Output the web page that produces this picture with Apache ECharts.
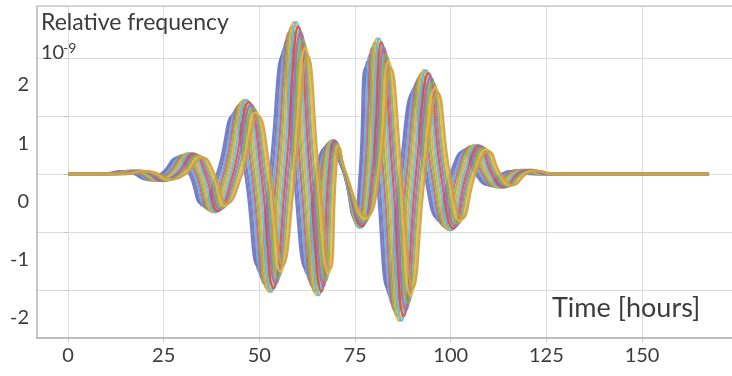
<!DOCTYPE html>
<html>
<head>
<meta charset="utf-8">
<script src="https://cdn.jsdelivr.net/npm/echarts@6/dist/echarts.min.js"></script>
<style>
  html, body { margin: 0; padding: 0; background: #fff; }
  #chart { width: 732px; height: 376px; }
</style>
</head>
<body>
<div id="chart"></div>
<script>
// tick labels
const xTicks = [0, 25, 50, 75, 100, 125, 150]
const yTicks = [-2, -1, 0, 1, 2]

// traces: [time in hours, relative frequency in 1e-9]
const trace01 = [[0,0],[8.7,0],[14.2,0.05],[17.2,0],[20.2,-0.09],[24.2,0],[28.6,0.28],[31.7,0],[34.9,-0.51],[38.9,0],[43,1],[46.3,0],[49.5,-1.58],[52.7,0],[56,2.04],[59,0],[62,-1.63],[64.8,0],[67.6,0.46],[71.7,0.08],[74.7,-0.73],[76.2,0],[77.7,1.83],[80.6,0],[83.5,-1.97],[86.7,0],[90,1.4],[93.2,0],[96.5,-0.76],[99.9,0],[103.3,0.39],[106.5,0],[109.8,-0.19],[113.2,0],[116.6,0.05],[120.7,0],[167.5,0]]
const trace02 = [[0,0],[9.3,0],[14.8,0.05],[17.8,0],[20.8,-0.1],[24.8,0],[29.2,0.3],[32.3,0],[35.5,-0.55],[39.5,0],[43.6,1.06],[46.9,0],[50.1,-1.68],[53.3,0],[56.6,2.17],[59.6,0],[62.6,-1.73],[65.2,0],[67.9,0.49],[71.7,0.08],[75,-0.77],[76.6,0],[78.3,1.94],[81.2,0],[84.1,-2.1],[87.3,0],[90.6,1.49],[93.8,0],[97.1,-0.81],[100.5,0],[103.9,0.42],[107.1,0],[110.4,-0.2],[113.8,0],[117.2,0.06],[121.3,0],[167.5,0]]
const trace03 = [[0,0],[9.9,0],[15.4,0.05],[18.4,0],[21.4,-0.11],[25.4,0],[29.8,0.32],[32.9,0],[36.1,-0.58],[40.1,0],[44.2,1.13],[47.5,0],[50.7,-1.79],[53.9,0],[57.2,2.31],[60.2,0],[63.2,-1.84],[65.7,0],[68.2,0.52],[71.8,0.08],[75.3,-0.82],[77.1,0],[78.9,2.06],[81.8,0],[84.7,-2.23],[87.9,0],[91.2,1.58],[94.4,0],[97.7,-0.85],[101.1,0],[104.5,0.44],[107.7,0],[111,-0.21],[114.4,0],[117.8,0.06],[121.9,0],[167.5,0]]
const trace04 = [[0,0],[10.5,0],[16,0.06],[19,0],[22,-0.11],[26,0],[30.4,0.33],[33.5,0],[36.7,-0.61],[40.7,0],[44.8,1.19],[48.1,0],[51.3,-1.89],[54.5,0],[57.8,2.44],[60.8,0],[63.8,-1.94],[66.2,0],[68.5,0.55],[71.9,0.08],[75.6,-0.86],[77.6,0],[79.5,2.18],[82.4,0],[85.3,-2.35],[88.5,0],[91.8,1.66],[95,0],[98.3,-0.9],[101.7,0],[105.1,0.47],[108.3,0],[111.6,-0.22],[115,0],[118.4,0.07],[122.5,0],[167.5,0]]
const trace05 = [[0,0],[11.1,0],[16.6,0.06],[19.6,0],[22.6,-0.12],[26.6,0],[31,0.35],[34.1,0],[37.3,-0.64],[41.3,0],[45.4,1.24],[48.7,0],[51.9,-1.97],[55.1,0],[58.4,2.54],[61.4,0],[64.4,-2.03],[66.7,0],[68.8,0.57],[71.9,0.08],[75.9,-0.9],[78.1,0],[80.1,2.27],[83,0],[85.9,-2.45],[89.1,0],[92.4,1.74],[95.6,0],[98.9,-0.94],[102.3,0],[105.7,0.49],[108.9,0],[112.2,-0.23],[115.6,0],[119,0.07],[123.1,0],[167.5,0]]
const trace06 = [[0,0],[11.7,0],[17.2,0.06],[20.2,0],[23.2,-0.12],[27.2,0],[31.6,0.36],[34.7,0],[37.9,-0.66],[41.9,0],[46,1.28],[49.3,0],[52.5,-2.03],[55.7,0],[59,2.62],[62,0],[65,-2.09],[67.2,0],[69.1,0.59],[72,0.08],[76.2,-0.93],[78.6,0],[80.7,2.34],[83.6,0],[86.5,-2.53],[89.7,0],[93,1.79],[96.2,0],[99.5,-0.97],[102.9,0],[106.3,0.5],[109.5,0],[112.8,-0.24],[116.2,0],[119.6,0.07],[123.7,0],[167.5,0]]
const trace07 = [[0,0],[12.3,0],[17.8,0.06],[20.8,0],[23.8,-0.12],[27.8,0],[32.2,0.36],[35.3,0],[38.5,-0.66],[42.5,0],[46.6,1.28],[49.9,0],[53.1,-2.03],[56.3,0],[59.6,2.62],[62.6,0],[65.6,-2.09],[67.6,0],[69.4,0.59],[72,0.08],[76.5,-0.93],[79,0],[81.3,2.34],[84.2,0],[87.1,-2.53],[90.3,0],[93.6,1.79],[96.8,0],[100.1,-0.97],[103.5,0],[106.9,0.5],[110.1,0],[113.4,-0.24],[116.8,0],[120.2,0.07],[124.3,0],[167.5,0]]
const trace08 = [[0,0],[12.9,0],[18.4,0.06],[21.4,0],[24.4,-0.12],[28.4,0],[32.8,0.35],[35.9,0],[39.1,-0.64],[43.1,0],[47.2,1.24],[50.5,0],[53.7,-1.97],[56.9,0],[60.2,2.54],[63.2,0],[66.2,-2.03],[68.1,0],[69.7,0.57],[72.1,0.08],[76.8,-0.9],[79.5,0],[81.9,2.27],[84.8,0],[87.7,-2.45],[90.9,0],[94.2,1.74],[97.4,0],[100.7,-0.94],[104.1,0],[107.5,0.49],[110.7,0],[114,-0.23],[117.4,0],[120.8,0.07],[124.9,0],[167.5,0]]
const trace09 = [[0,0],[13.5,0],[19,0.06],[22,0],[25,-0.11],[29,0],[33.4,0.33],[36.5,0],[39.7,-0.61],[43.7,0],[47.8,1.19],[51.1,0],[54.3,-1.89],[57.5,0],[60.8,2.44],[63.8,0],[66.8,-1.94],[68.6,0],[70,0.55],[72.2,0.08],[77.1,-0.86],[80,0],[82.5,2.18],[85.4,0],[88.3,-2.35],[91.5,0],[94.8,1.66],[98,0],[101.3,-0.9],[104.7,0],[108.1,0.47],[111.3,0],[114.6,-0.22],[118,0],[121.4,0.07],[125.5,0],[167.5,0]]
const trace10 = [[0,0],[14.1,0],[19.6,0.05],[22.6,0],[25.6,-0.11],[29.6,0],[34,0.32],[37.1,0],[40.3,-0.58],[44.3,0],[48.4,1.13],[51.7,0],[54.9,-1.79],[58.1,0],[61.4,2.31],[64.4,0],[67.4,-1.84],[69.1,0],[70.3,0.52],[72.2,0.08],[77.4,-0.82],[80.5,0],[83.1,2.06],[86,0],[88.9,-2.23],[92.1,0],[95.4,1.58],[98.6,0],[101.9,-0.85],[105.3,0],[108.7,0.44],[111.9,0],[115.2,-0.21],[118.6,0],[122,0.06],[126.1,0],[167.5,0]]
const trace11 = [[0,0],[14.7,0],[20.2,0.05],[23.2,0],[26.2,-0.1],[30.2,0],[34.6,0.3],[37.7,0],[40.9,-0.55],[44.9,0],[49,1.06],[52.3,0],[55.5,-1.68],[58.7,0],[62,2.17],[65,0],[68,-1.73],[69.6,0],[70.6,0.49],[72.3,0.08],[77.7,-0.77],[81,0],[83.7,1.94],[86.6,0],[89.5,-2.1],[92.7,0],[96,1.49],[99.2,0],[102.5,-0.81],[105.9,0],[109.3,0.42],[112.5,0],[115.8,-0.2],[119.2,0],[122.6,0.06],[126.7,0],[167.5,0]]
const trace12 = [[0,0],[15.3,0],[20.8,0.05],[23.8,0],[26.8,-0.09],[30.8,0],[35.2,0.28],[38.3,0],[41.5,-0.51],[45.5,0],[49.6,1],[52.9,0],[56.1,-1.58],[59.3,0],[62.6,2.04],[65.6,0],[68.6,-1.63],[70,0],[70.9,0.46],[72.3,0.08],[78,-0.73],[81.4,0],[84.3,1.83],[87.2,0],[90.1,-1.97],[93.3,0],[96.6,1.4],[99.8,0],[103.1,-0.76],[106.5,0],[109.9,0.39],[113.1,0],[116.4,-0.19],[119.8,0],[123.2,0.05],[127.3,0],[167.5,0]]

const traces = [trace01, trace02, trace03, trace04, trace05, trace06,
  trace07, trace08, trace09, trace10, trace11, trace12]

const palette = ['#5a78cc', '#9062b3', '#45b5e0', '#e0566e', '#72bd52', '#efa237',
  '#52bfe4', '#d8503f', '#9c70bf', '#80b64e', '#f0b43c', '#c9a046']

const gridColor = '#dcdcdc'
const textColor = '#3c3c3c'
const font = 'Lato'

// x: 3.827 px per hour, hour 0 at x=68; y: 58 px per unit, 0 at y=174
const xMaxData = 173.5

const chart = echarts.init(document.getElementById('chart'))

const hidden = { show: false }
const plainText = (size) => ({ fontSize: size, fontWeight: 'normal', color: textColor, fontFamily: font })

chart.setOption({
  animation: false,
  backgroundColor: '#fff',
  textStyle: { fontFamily: font },
  title: [
    { text: 'Relative frequency', left: 41, top: 11, padding: 0, textStyle: plainText(23) },
    { text: '10', left: 41, top: 43, padding: 0, textStyle: plainText(20) },
    { text: '-9', left: 63, top: 41, padding: 0, textStyle: plainText(14) },
    { text: 'Time [hours]', left: 552, top: 295, padding: 0, textStyle: plainText(27) },
  ],
  grid: [
    { left: 37, right: 0, top: 6, bottom: 86 },  // data + horizontal lines
    { left: 68, right: 0, top: 6, bottom: 38 },  // vertical lines + x labels
    { left: 37, right: 0, top: 6, bottom: 38 },  // frame
    { left: 37, right: 0, top: 85, bottom: 58 }, // y labels
  ],
  xAxis: [
    { gridIndex: 0, type: 'value', min: -8.1, max: xMaxData, show: false },
    {
      gridIndex: 1, type: 'value', min: xTicks[0], max: xMaxData, interval: xTicks[1] - xTicks[0],
      axisLine: hidden,
      axisTick: { show: true, length: 4, lineStyle: { color: '#c4c4c4' } },
      axisLabel: { fontSize: 20, color: textColor, fontFamily: font, margin: 8, showMaxLabel: false },
      splitLine: { show: true, lineStyle: { color: gridColor } },
    },
    {
      gridIndex: 2, type: 'value', position: 'bottom', min: 0, max: 1,
      axisLine: { show: true, lineStyle: { color: '#a8a8a8', width: 1.5 } },
      axisTick: hidden, axisLabel: hidden, splitLine: hidden,
    },
    {
      gridIndex: 2, type: 'value', position: 'top', min: 0, max: 1,
      axisLine: { show: true, lineStyle: { color: '#cdcdcd', width: 1.5 } },
      axisTick: hidden, axisLabel: hidden, splitLine: hidden,
    },
    { gridIndex: 3, type: 'value', min: 0, max: 1, show: false },
  ],
  yAxis: [
    {
      gridIndex: 0, type: 'value', min: -2, max: 2.897, interval: 1,
      axisLine: hidden,
      axisTick: { show: true, length: 4, lineStyle: { color: '#c4c4c4' } },
      axisLabel: hidden,
      splitLine: { show: true, lineStyle: { color: gridColor } },
    },
    { gridIndex: 1, type: 'value', min: 0, max: 1, show: false },
    {
      gridIndex: 2, type: 'value', min: 0, max: 1,
      axisLine: { show: true, lineStyle: { color: '#b4b4b4', width: 1.5 } },
      axisTick: hidden, axisLabel: hidden, splitLine: hidden,
    },
    {
      gridIndex: 3, type: 'value', min: yTicks[0], max: yTicks[yTicks.length - 1], interval: 1,
      axisLine: hidden, axisTick: hidden, splitLine: hidden,
      axisLabel: { fontSize: 20, color: textColor, fontFamily: font, margin: 8 },
    },
  ],
  series: traces.map((data, i) => ({
    type: 'line',
    xAxisIndex: 0,
    yAxisIndex: 0,
    data,
    smooth: true,
    showSymbol: false,
    clip: false,
    silent: true,
    z: 3,
    lineStyle: { width: 2.3, color: palette[i], opacity: 0.9 },
  })),
})
</script>
</body>
</html>
